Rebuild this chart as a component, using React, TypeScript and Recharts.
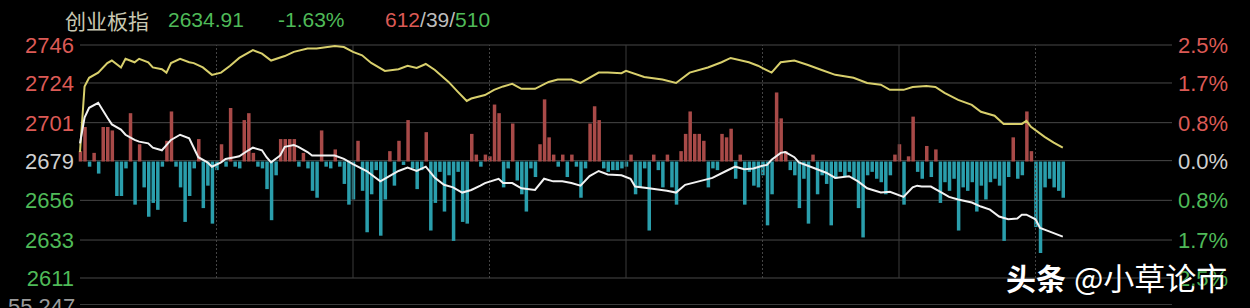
import React from 'react'
import { ComposedChart, Bar, Line, XAxis, YAxis, CartesianGrid, ReferenceLine, Cell } from 'recharts'

// price axis (left) and change axis (right), top to bottom
const leftTicks = [2746, 2724, 2701, 2679, 2656, 2633, 2611]
const leftLabels = ['2746', '2724', '2701', '2679', '2656', '2633', '2611']
const rightLabels = ['2.5%', '1.7%', '0.8%', '0.0%', '0.8%', '1.7%', '2.5%']

// index line (white), minutes from 09:30
const priceMinutes = [
  0, 1, 2, 4, 6, 7, 9, 10, 12, 13,
  15, 16, 18, 19, 20, 22, 24, 25, 26, 28,
  29, 31, 32, 34, 35, 37, 38, 40, 41, 42,
  44, 45, 47, 48, 50, 51, 54, 56, 58, 60,
  63, 66, 68, 70, 72, 74, 76, 78, 80, 82,
  84, 86, 88, 89, 92, 93, 95, 97, 100, 102,
  104, 106, 108, 110, 112, 114, 116, 119, 121, 122,
  125, 129, 131, 133, 136, 139, 142, 144, 146, 148,
  150, 151, 152, 154, 155, 157, 158, 161, 164, 166,
  169, 171, 173, 176, 178, 181, 183, 184, 185, 187,
  189, 191, 193, 196, 198, 200, 202, 204, 206, 207,
  208, 210, 211, 213, 216,
]
const priceValues = [
  2689, 2704, 2709.6, 2712.5, 2704, 2700, 2697, 2694, 2691, 2690,
  2689, 2686.5, 2685, 2688, 2691, 2694, 2692, 2686.5, 2681, 2678,
  2675.5, 2678, 2680, 2681, 2681.5, 2685, 2686.5, 2685, 2681, 2678,
  2682, 2687, 2688, 2687, 2684, 2682, 2682, 2682, 2680, 2677,
  2673, 2667, 2670, 2673, 2675, 2673, 2675.5, 2669, 2665, 2663.5,
  2660.5, 2662, 2664.5, 2666, 2668.5, 2666, 2666, 2663, 2662, 2668.5,
  2667, 2667, 2666, 2664.5, 2670, 2673, 2671, 2670.5, 2668.5, 2664,
  2663, 2661.6, 2660.5, 2665, 2667, 2669, 2673, 2675.5, 2674, 2674.5,
  2676, 2676.5, 2679.5, 2683.5, 2684, 2681, 2678, 2675, 2672, 2669,
  2670, 2667, 2663, 2660.5, 2661, 2658, 2663.5, 2664.5, 2664, 2664,
  2661, 2658, 2656.5, 2654.7, 2652.4, 2650.6, 2646.6, 2645, 2645.5, 2647.7,
  2647.7, 2645, 2640, 2638, 2635,
]

// equal-weight line (yellow)
const avgMinutes = [
  0, 1, 2, 4, 6, 7, 9, 10, 12, 13,
  15, 16, 18, 19, 20, 22, 24, 25, 27, 29,
  31, 33, 35, 38, 40, 42, 45, 47, 50, 52,
  56, 58, 60, 62, 64, 67, 70, 72, 74, 76,
  78, 81, 83, 85, 86, 89, 91, 93, 95, 97,
  100, 103, 105, 108, 110, 114, 116, 119, 120, 124,
  128, 131, 134, 138, 141, 143, 147, 149, 152, 154,
  157, 160, 163, 166, 170, 173, 176, 178, 181, 183,
  186, 188, 190, 193, 196, 198, 201, 203, 204, 207,
  208, 209, 212, 214, 216,
]
const avgValues = [
  2684, 2722, 2727, 2730, 2735.5, 2737, 2733, 2738, 2736, 2738,
  2736, 2733, 2732, 2730, 2735.5, 2738, 2736, 2735.5, 2733, 2728.7,
  2730, 2734, 2738.5, 2743, 2741, 2737, 2739.6, 2742, 2744, 2744,
  2745.4, 2744.8, 2742, 2740, 2735.6, 2731, 2732, 2734, 2732.7, 2735,
  2731.5, 2724.6, 2719, 2713.6, 2715, 2717, 2720, 2722, 2723.5, 2720.6,
  2720.6, 2724.6, 2726, 2726, 2724, 2730, 2730, 2729.7, 2731, 2727.5,
  2726, 2724, 2730, 2733, 2736, 2738.5, 2736, 2734, 2730, 2736,
  2737, 2734.4, 2731.5, 2728.7, 2727, 2724, 2723, 2720, 2720, 2721.7,
  2722.3, 2721.7, 2718.3, 2714.2, 2711.3, 2707.3, 2705, 2700.3, 2700.3, 2700.3,
  2702, 2698.6, 2692.8, 2689.4, 2686.5,
]

// up/down strength bars, one per minute (points from prev close)
const flowBars = [
  6, 20, -3, 5, -7, 20, 20, 18, -20, -20,
  -4, 28, -25, 10, -15, -32, -24, -28, -3, 12,
  29, -3, -15, -35, -20, -4, 13, -27, -14, -36,
  -5, 10, -3, 31, -3, -4, 24, 28, 5, -3,
  -4, -16, -34, -8, 13, 13, 13, 13, -3, 5,
  -4, -17, -21, 18, -3, -4, 7, -3, -13, -25,
  -22, 12, -17, -41, -19, -5, -43, -22, 6, -14,
  12, -2, 24, -4, -16, -5, 17, -40, -24, -6,
  -29, -8, -46, -6, -35, -36, 16, 4, -3, 4,
  3, 33, 28, -15, -4, 22, -11, -19, -29, -4,
  -9, 10, 36, 14, 4, -3, 4, -9, 4, -3,
  -21, -4, 22, 32, 24, -4, -6, -5, -5, -4,
  -3, 4, -19, -15, -4, -40, 4, -5, -15, 4,
  -15, -25, 6, 16, 29, 16, 16, 12, -15, -4,
  -5, 16, 14, 19, -10, 4, -25, -6, -14, -15,
  -8, -37, -19, 40, 25, 6, -5, -8, -27, -10,
  -36, 4, -19, -8, -13, -37, -10, -6, -9, -6,
  -10, -27, -44, -8, -6, -10, -12, -19, -8, 4,
  10, -25, 3, 26, -6, -10, 9, -9, 7, -24,
  -12, -17, -10, -40, -15, -17, -12, -29, -14, -22,
  -12, -10, -14, -46, -9, 14, -10, -8, 29, 6,
  -38, -53, -15, -10, -15, -17, -21,
]

const halfHourMarks = [30, 90, 150, 210]
const hourMarks = [60, 120, 180]

const RED = '#dc5a55'
const GREEN = '#4fba58'
const GRAY = '#cfcfcf'
const FONT = '"Liberation Sans", Arial, sans-serif'
const CJK = '"Noto Sans CJK SC", sans-serif'

const rows = Array.from({ length: 241 }, (_, m) => ({
  m,
  price: null as number | null,
  avg: null as number | null,
  flow: m < flowBars.length ? flowBars[m] : null,
}))
priceMinutes.forEach((m, i) => { rows[m].price = priceValues[i] })
avgMinutes.forEach((m, i) => { rows[m].avg = avgValues[i] })

const sideColor = (i: number) => (i < 3 ? RED : i === 3 ? GRAY : GREEN)

const LeftTick = (props: any) => {
  const i = leftTicks.indexOf(props.payload.value)
  return (
    <text x={74} y={props.y + 8} textAnchor="end" fill={sideColor(i)} fontSize={22} fontFamily={FONT}>
      {leftLabels[i]}
    </text>
  )
}

const RightTick = (props: any) => {
  const i = leftTicks.indexOf(props.payload.value)
  return (
    <text x={1178} y={props.y + 8} textAnchor="start" fill={sideColor(i)} fontSize={22} fontFamily={FONT}>
      {rightLabels[i]}
    </text>
  )
}

export default function App() {
  return (
    <div style={{ position: 'fixed', left: 0, top: 0, width: 1250, height: 308, background: '#000', overflow: 'hidden' }}>
      <ComposedChart width={1250} height={308} data={rows} margin={{ top: 45, right: 0, bottom: 30, left: 0 }}>
        <XAxis dataKey="m" type="number" domain={[0, 240]} hide />
        <YAxis yAxisId="px" domain={[2611, 2746]} ticks={leftTicks} width={80} axisLine={false} tickLine={false} tick={LeftTick} interval={0} />
        <YAxis yAxisId="pct" orientation="right" domain={[2611, 2746]} ticks={leftTicks} width={78} axisLine={false} tickLine={false} tick={RightTick} interval={0} />
        <YAxis yAxisId="flow" domain={[-67.5, 67.5]} hide />
        <CartesianGrid yAxisId="px" vertical={false} stroke="#484848" />
        {hourMarks.map((x) => (
          <ReferenceLine key={x} x={x} yAxisId="px" stroke="#3a3a3a" />
        ))}
        {halfHourMarks.map((x) => (
          <ReferenceLine key={x} x={x} yAxisId="px" stroke="#444" strokeDasharray="2 2" />
        ))}
        <Bar yAxisId="flow" dataKey="flow" barSize={3.5} isAnimationActive={false}>
          {rows.map((r, i) => (
            <Cell key={i} fill={(r.flow ?? 0) >= 0 ? '#a84a48' : '#2a9eac'} />
          ))}
        </Bar>
        <Line yAxisId="pct" dataKey="avg" stroke="#d8cf6c" strokeWidth={2} dot={false} connectNulls isAnimationActive={false} />
        <Line yAxisId="px" dataKey="price" stroke="#f2f2f2" strokeWidth={2} dot={false} connectNulls isAnimationActive={false} />
      </ComposedChart>

      <div style={{ position: 'absolute', left: 80, top: 304, width: 1092, height: 1, background: '#3a3a3a' }} />

      <div style={{ position: 'absolute', left: 65, top: 6, whiteSpace: 'nowrap', fontSize: 21, lineHeight: '28px' }}>
        <span style={{ fontFamily: CJK, color: '#c9c8b2' }}>创业板指</span>
      </div>
      <div style={{ position: 'absolute', left: 168, top: 6, whiteSpace: 'nowrap', fontSize: 21, lineHeight: '28px', fontFamily: FONT, color: GREEN }}>
        2634.91
      </div>
      <div style={{ position: 'absolute', left: 278, top: 6, whiteSpace: 'nowrap', fontSize: 21, lineHeight: '28px', fontFamily: FONT, color: GREEN }}>
        -1.63%
      </div>
      <div style={{ position: 'absolute', left: 385, top: 6, whiteSpace: 'nowrap', fontSize: 21, lineHeight: '28px', fontFamily: FONT }}>
        <span style={{ color: RED }}>612</span>
        <span style={{ color: '#bdbdbd' }}>/39/</span>
        <span style={{ color: GREEN }}>510</span>
      </div>

      <div style={{ position: 'absolute', left: 8, top: 294, fontSize: 22, lineHeight: '26px', fontFamily: FONT, color: '#9a9a9a' }}>
        55,247
      </div>

      <div style={{ position: 'absolute', left: 1006, top: 258, whiteSpace: 'nowrap', lineHeight: '38px', fontFamily: CJK, color: '#fff', textShadow: '0 0 2px #000' }}>
        <span style={{ fontWeight: 700, fontSize: 30 }}>头条</span>
        <span style={{ fontSize: 31, marginLeft: 8 }}>@小草论市</span>
      </div>
    </div>
  )
}
